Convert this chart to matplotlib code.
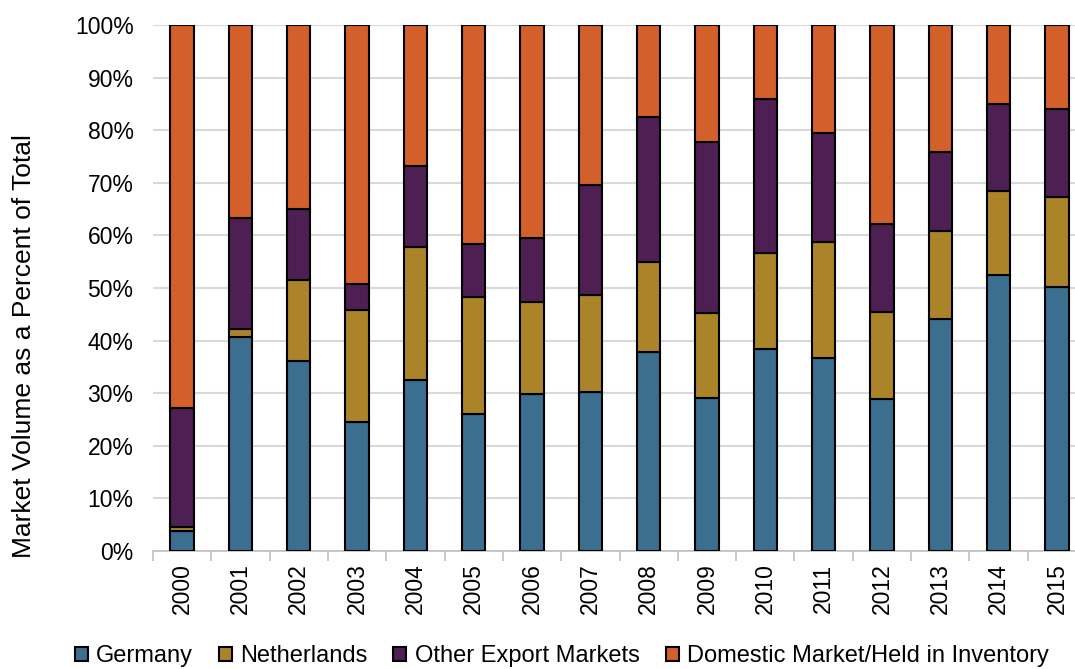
import matplotlib
matplotlib.use('Agg')
import matplotlib.pyplot as plt
import numpy as np
from matplotlib.ticker import PercentFormatter, FixedLocator

plt.rcParams['font.family'] = ['Liberation Sans', 'DejaVu Sans']

years = ['2000', '2001', '2002', '2003', '2004', '2005', '2006', '2007',
         '2008', '2009', '2010', '2011', '2012', '2013', '2014', '2015']
germany = [3.8, 40.7, 36.1, 24.5, 32.5, 26.0, 29.8, 30.2,
           37.8, 29.1, 38.4, 36.7, 28.9, 44.1, 52.5, 50.2]
netherlands = [0.7, 1.5, 15.4, 21.3, 25.3, 22.3, 17.5, 18.5,
               17.1, 16.1, 18.3, 22.0, 16.5, 16.7, 15.9, 17.1]
other_export = [22.7, 21.1, 13.5, 5.0, 15.4, 10.1, 12.2, 20.9,
                27.6, 32.6, 29.2, 20.8, 16.8, 15.0, 16.6, 16.7]
domestic = [100 - g - n - o for g, n, o in zip(germany, netherlands, other_export)]

series = [('Germany', germany, '#3b6e8f'),
          ('Netherlands', netherlands, '#ab8329'),
          ('Other Export Markets', other_export, '#4d1f52'),
          ('Domestic Market/Held in Inventory', domestic, '#d35f2b')]

fig = plt.figure(figsize=(10.75, 6.69), dpi=100)
ax = fig.add_axes([0.1423, 0.1764, 0.868, 0.7862])

x = np.arange(len(years))
bottom = np.zeros(len(years))
for name, vals, col in series:
    ax.bar(x, vals, 0.4, bottom=bottom, color=col, edgecolor='black',
           linewidth=1.5, label=name, zorder=3)
    bottom += np.array(vals)

ax.set_ylim(0, 100)
ax.set_xlim(-0.5, len(years) - 0.5)
ax.set_yticks(np.arange(0, 101, 10))
ax.yaxis.set_major_formatter(PercentFormatter(decimals=0))
ax.set_xticks(x)
ax.set_xticklabels(years, rotation=90)
ax.xaxis.set_minor_locator(FixedLocator(np.arange(-0.5, len(years), 1)))
ax.tick_params(axis='x', which='major', length=0, labelsize=16.5, pad=9)
ax.tick_params(axis='x', which='minor', length=7, color='#bfbfbf', width=1.2)
ax.tick_params(axis='y', length=0, labelsize=16.5, pad=14)
ax.grid(axis='y', color='#d9d9d9', linewidth=1.5, zorder=0)
for s in ['top', 'right', 'left']:
    ax.spines[s].set_visible(False)
ax.spines['bottom'].set_color('#bfbfbf')
ax.spines['bottom'].set_linewidth(1.2)
ax.set_ylabel('Market Volume as a Percent of Total', fontsize=19)
ax.yaxis.set_label_coords(-0.125, 0.39)

ax.legend(loc='center', bbox_to_anchor=(0.438, -0.2), ncol=4,
          frameon=False, fontsize=17, handlelength=0.55, handleheight=0.55,
          handletextpad=0.35, columnspacing=1.1)

fig.savefig('out.png', dpi=100)
